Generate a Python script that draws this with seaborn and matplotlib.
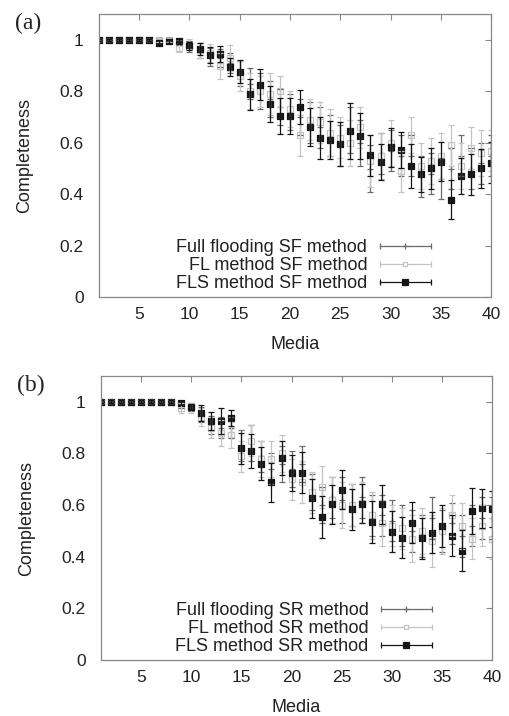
import numpy as np
import pandas as pd
import matplotlib
matplotlib.use("Agg")
import matplotlib.pyplot as plt
from matplotlib.lines import Line2D
from matplotlib.legend_handler import HandlerBase
import seaborn as sns

# Media counts on the x axis
media = list(range(1, 41))

# Panel (a): SF method
ff_a = [1.0, 1.0, 1.0, 1.0, 1.0, 1.0, 1.0, 1.0, 0.99, 0.975, 0.96, 0.935, 0.93, 0.91, 0.87, 0.83, 0.8, 0.77, 0.74, 0.72,
        0.7, 0.68, 0.66, 0.63, 0.59, 0.65, 0.6, 0.5, 0.56, 0.57, 0.55, 0.55, 0.47, 0.48, 0.46, 0.5, 0.55, 0.5, 0.52, 0.55]
ff_a_err = [0.005, 0.005, 0.005, 0.005, 0.005, 0.005, 0.008, 0.008, 0.01, 0.02, 0.03, 0.035, 0.035, 0.04, 0.05, 0.06, 0.07, 0.07, 0.07, 0.07,
            0.07, 0.08, 0.08, 0.08, 0.08, 0.09, 0.09, 0.09, 0.08, 0.08, 0.08, 0.08, 0.08, 0.08, 0.08, 0.08, 0.08, 0.08, 0.08, 0.08]
fl_a = [1.0, 1.0, 1.0, 1.0, 1.0, 1.0, 1.0, 1.0, 0.97, 0.985, 0.96, 0.95, 0.9, 0.93, 0.86, 0.8, 0.8, 0.79, 0.8, 0.73,
        0.63, 0.69, 0.68, 0.64, 0.62, 0.6, 0.66, 0.53, 0.55, 0.6, 0.49, 0.63, 0.51, 0.53, 0.55, 0.59, 0.51, 0.58, 0.56, 0.57]
fl_a_err = [0.005, 0.005, 0.005, 0.005, 0.005, 0.005, 0.008, 0.008, 0.015, 0.02, 0.03, 0.035, 0.05, 0.05, 0.06, 0.07, 0.06, 0.08, 0.06, 0.07,
            0.08, 0.08, 0.08, 0.09, 0.08, 0.09, 0.08, 0.1, 0.09, 0.09, 0.08, 0.07, 0.09, 0.09, 0.09, 0.08, 0.09, 0.08, 0.09, 0.08]
fls_a = [1.0, 1.0, 1.0, 1.0, 1.0, 1.0, 0.99, 0.995, 0.995, 0.978, 0.965, 0.941, 0.945, 0.896, 0.876, 0.789, 0.827, 0.753, 0.704, 0.704,
         0.74, 0.662, 0.619, 0.612, 0.596, 0.646, 0.627, 0.552, 0.527, 0.583, 0.573, 0.509, 0.477, 0.501, 0.527, 0.379, 0.473, 0.477, 0.501, 0.522]
fls_a_err = [0.005, 0.005, 0.005, 0.005, 0.005, 0.005, 0.01, 0.008, 0.01, 0.015, 0.025, 0.03, 0.03, 0.035, 0.045, 0.06, 0.06, 0.07, 0.07, 0.07,
             0.065, 0.075, 0.08, 0.075, 0.085, 0.11, 0.09, 0.08, 0.07, 0.075, 0.07, 0.085, 0.07, 0.08, 0.075, 0.075, 0.07, 0.08, 0.075, 0.08]

# Panel (b): SR method
ff_b = [1.0, 1.0, 1.0, 1.0, 1.0, 1.0, 1.0, 1.0, 0.985, 0.98, 0.95, 0.91, 0.9, 0.9, 0.83, 0.84, 0.79, 0.74, 0.76, 0.74,
        0.76, 0.65, 0.6, 0.63, 0.62, 0.6, 0.63, 0.56, 0.56, 0.54, 0.52, 0.5, 0.48, 0.55, 0.5, 0.53, 0.48, 0.52, 0.55, 0.55]
ff_b_err = [0.005, 0.005, 0.005, 0.005, 0.005, 0.005, 0.005, 0.005, 0.01, 0.015, 0.03, 0.035, 0.04, 0.04, 0.06, 0.07, 0.06, 0.06, 0.07, 0.07,
            0.07, 0.07, 0.07, 0.08, 0.09, 0.08, 0.08, 0.08, 0.08, 0.08, 0.08, 0.08, 0.08, 0.08, 0.08, 0.08, 0.08, 0.08, 0.08, 0.08]
fl_b = [1.0, 1.0, 1.0, 1.0, 1.0, 1.0, 1.0, 1.0, 0.975, 0.975, 0.94, 0.9, 0.88, 0.87, 0.79, 0.85, 0.78, 0.78, 0.8, 0.7,
        0.69, 0.65, 0.67, 0.62, 0.6, 0.6, 0.61, 0.56, 0.53, 0.52, 0.51, 0.47, 0.5, 0.46, 0.5, 0.56, 0.52, 0.47, 0.52, 0.47]
fl_b_err = [0.005, 0.005, 0.005, 0.005, 0.005, 0.005, 0.005, 0.005, 0.02, 0.02, 0.035, 0.04, 0.05, 0.05, 0.06, 0.06, 0.07, 0.07, 0.07, 0.08,
            0.08, 0.08, 0.08, 0.09, 0.09, 0.08, 0.08, 0.09, 0.09, 0.08, 0.08, 0.09, 0.09, 0.1, 0.09, 0.08, 0.09, 0.08, 0.08, 0.08]
fls_b = [1.0, 1.0, 1.0, 1.0, 1.0, 1.0, 1.0, 1.0, 0.995, 0.98, 0.956, 0.927, 0.925, 0.938, 0.82, 0.81, 0.761, 0.688, 0.782, 0.724,
         0.726, 0.626, 0.554, 0.603, 0.659, 0.584, 0.606, 0.534, 0.603, 0.497, 0.474, 0.532, 0.471, 0.493, 0.519, 0.482, 0.424, 0.577, 0.588, 0.584]
fls_b_err = [0.005, 0.005, 0.005, 0.005, 0.005, 0.005, 0.005, 0.005, 0.008, 0.012, 0.03, 0.035, 0.05, 0.03, 0.06, 0.065, 0.065, 0.075, 0.065, 0.07,
             0.08, 0.075, 0.08, 0.075, 0.075, 0.08, 0.075, 0.08, 0.075, 0.08, 0.08, 0.08, 0.08, 0.08, 0.08, 0.08, 0.08, 0.09, 0.075, 0.07]

labels_a = ["Full flooding SF method", "FL method SF method", "FLS method SF method"]
labels_b = ["Full flooding SR method", "FL method SR method", "FLS method SR method"]

# style per series: colour, marker, face colour, marker size
STYLES = [
    ("#6a6a6a", "+", "#6a6a6a", 4.5),
    ("#c4c4c4", "s", "white", 4),
    ("#151515", "s", "#151515", 4.3),
]


class ErrHandler(HandlerBase):
    # gnuplot-like key: horizontal bar with end caps and marker in the middle
    def create_artists(self, legend, orig_handle, xdescent, ydescent, width, height, fontsize, trans):
        c = orig_handle.get_color()
        y = (height - ydescent) / 2
        x0, x1 = -xdescent, width - xdescent
        line = Line2D([x0, x1], [y, y], color=c, lw=0.9, transform=trans)
        caps = Line2D([x0, x1], [y, y], color=c, lw=0, marker="|", markersize=5,
                      markeredgewidth=0.9, transform=trans)
        mark = Line2D([(x0 + x1) / 2], [y], color=c, lw=0, marker=orig_handle.get_marker(),
                      markersize=orig_handle.get_markersize(), markerfacecolor=orig_handle.get_markerfacecolor(),
                      markeredgecolor=c, markeredgewidth=0.9, transform=trans)
        return [line, caps, mark]


sns.set_theme(style="white")
plt.rcParams["font.family"] = ["Liberation Sans", "DejaVu Sans"]

fig = plt.figure(figsize=(5.1, 7.16), dpi=100)
ax_a = fig.add_axes([0.194, 0.585, 0.769, 0.395])
ax_b = fig.add_axes([0.198, 0.078, 0.767, 0.397])

panels = [
    (ax_a, "(a)", [(ff_a, ff_a_err), (fl_a, fl_a_err), (fls_a, fls_a_err)], labels_a),
    (ax_b, "(b)", [(ff_b, ff_b_err), (fl_b, fl_b_err), (fls_b, fls_b_err)], labels_b),
]

for ax, tag, series, labels in panels:
    handles = []
    for (vals, errs), (col, mk, mfc, ms), lab in zip(series, STYLES, labels):
        df = pd.DataFrame({"media": media, "completeness": vals, "err": errs})
        ax.errorbar(df["media"], df["completeness"], yerr=df["err"], fmt="none",
                    ecolor=col, elinewidth=0.9, capsize=2.5, capthick=0.9)
        if mk == "+":
            sns.scatterplot(data=df, x="media", y="completeness", ax=ax, marker="+",
                            color=col, s=ms ** 2, linewidth=0.9, legend=False)
        else:
            sns.scatterplot(data=df, x="media", y="completeness", ax=ax, marker=mk,
                            facecolor=mfc, edgecolor=col, s=ms ** 2, linewidth=0.9, legend=False)
        handles.append(Line2D([], [], color=col, marker=mk, markersize=ms * 0.85, markerfacecolor=mfc))

    ax.set_xlim(1, 40)
    ax.set_ylim(0, 1.1)
    ax.set_xticks([5, 10, 15, 20, 25, 30, 35, 40])
    ax.set_yticks([0, 0.2, 0.4, 0.6, 0.8, 1.0])
    ax.set_yticklabels(["0", "0.2", "0.4", "0.6", "0.8", "1"])
    ax.tick_params(direction="in", length=4, width=0.8, color="#888888", labelsize=12.5,
                   labelcolor="#222222", top=True, right=True)
    ax.tick_params(axis="y", pad=11)
    ax.tick_params(axis="x", pad=7)
    for sp in ax.spines.values():
        sp.set_color("#888888")
        sp.set_linewidth(0.9)
    ax.set_xlabel("Media", fontsize=13, color="#222222", labelpad=10)
    ax.set_ylabel("Completeness", fontsize=13, color="#222222", labelpad=19)

    leg = ax.legend(handles, labels, handler_map={h: ErrHandler() for h in handles},
                    loc="lower right", bbox_to_anchor=(0.88, -0.03), frameon=False,
                    markerfirst=False, fontsize=13, handlelength=2.8, handletextpad=0.7,
                    labelspacing=0.05, borderpad=0.25)
    for t in leg.get_texts():
        t.set_color("#222222")

    ax.text(-0.215, 1.005, tag, transform=ax.transAxes, fontsize=17, family="Liberation Serif",
            va="top", ha="left", color="#222222")

fig.savefig("out.png", dpi=100)
